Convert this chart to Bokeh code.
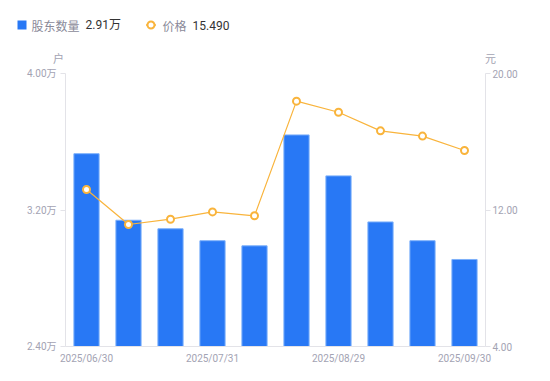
from bokeh.plotting import figure
from bokeh.layouts import column, row
from bokeh.models import Range1d, LinearAxis, FixedTicker
from bokeh.core.properties import value
from bokeh.embed import file_html
from bokeh.resources import INLINE

# ---- data ----
dates = ["2025/06/30", "2025/07/10", "2025/07/20", "2025/07/31", "2025/08/08",
         "2025/08/20", "2025/08/29", "2025/09/10", "2025/09/19", "2025/09/30"]
holders = [3.53, 3.14, 3.09, 3.02, 2.99, 3.64, 3.40, 3.13, 3.02, 2.91]   # 万户
prices = [13.20, 11.15, 11.46, 11.89, 11.66, 18.38, 17.73, 16.64, 16.33, 15.49]  # 元
left_ticks = [2.4, 3.2, 4.0]
left_labels = ["2.40万", "3.20万", "4.00万"]
right_ticks = [4, 12, 20]
right_labels = ["4.00", "12.00", "20.00"]
shown_idx = [0, 3, 6, 9]
legend_names = ["股东数量", "价格"]
legend_values = ["2.91万", "15.490"]
units = ["户", "元"]

xs = list(range(1, len(dates) + 1))

BLUE = "#2878F5"
ORANGE = "#F9B43C"
AXIS = "#E3E3E8"
TICKTXT = "#A3A3B3"
FONT = "Roboto, 'Noto Sans CJK SC'"
CJK = "'Noto Sans CJK SC'"

W = 550
TOP_H = 66

# ---------- header (legend + axis units) ----------
h = figure(frame_width=W, frame_height=TOP_H, x_range=Range1d(0, W), y_range=Range1d(TOP_H, 0),
           output_backend="svg", toolbar_location=None, tools="",
           min_border=0, min_border_left=0, min_border_right=0,
           min_border_top=0, min_border_bottom=0)
h.axis.visible = False
h.grid.visible = False
h.outline_line_color = None
h.background_fill_color = "white"
h.border_fill_color = "white"

h.rect(x=[21.5], y=[24.5], width=9, height=9, fill_color=BLUE, line_color=None)
h.line(x=[145.5, 155.5], y=[24.5, 24.5], line_color=ORANGE, line_width=1.5)
h.scatter(x=[150.5], y=[24.5], size=7, fill_color="white", line_color=ORANGE, line_width=2)
h.text(x=[31, 162], y=[24.5, 24.5], text=legend_names, text_baseline="middle",
       text_align="left", text_color="#8A8A99", text_font_size="12px", text_font=value(CJK))
h.text(x=[85, 192], y=[24.5, 24.5], text=legend_values, text_baseline="middle",
       text_align="left", text_color="#333333", text_font_size="12px", text_font=value(FONT))
h.text(x=[58, 490], y=[57, 57], text=units, text_baseline="middle",
       text_align="center", text_color=TICKTXT, text_font_size="11px", text_font=value(CJK))

# ---------- main chart ----------
p = figure(frame_width=420, frame_height=273, width=W, height=381 - TOP_H,
           min_border_left=65, min_border_right=65, min_border_top=7, min_border_bottom=35,
           x_range=Range1d(0.5, len(dates) + 0.5), y_range=Range1d(2.4, 4.0),
           output_backend="svg", toolbar_location=None, tools="")
p.extra_y_ranges = {"price": Range1d(4, 20)}
p.outline_line_color = None
p.xgrid.visible = False
p.ygrid.visible = False
p.background_fill_color = "white"
p.border_fill_color = "white"

bars = p.vbar(x=xs, top=holders, bottom=2.4, width=0.6, fill_color=BLUE,
              line_color="#7DB0FA", line_width=1)
ln = p.line(xs, prices, y_range_name="price", line_color=ORANGE, line_width=1.2)
sc = p.scatter(xs, prices, y_range_name="price", size=7, fill_color="white",
               line_color=ORANGE, line_width=2)

def style_axis(ax):
    ax.axis_line_color = AXIS
    ax.major_tick_line_color = AXIS
    ax.major_tick_out = 5
    ax.major_tick_in = 0
    ax.minor_tick_line_color = None
    ax.major_label_text_color = TICKTXT
    ax.major_label_text_font_size = "10px"
    ax.major_label_text_font = FONT

xa = p.xaxis[0]
style_axis(xa)
xa.ticker = FixedTicker(ticks=[xs[i] for i in shown_idx])
xa.major_label_overrides = {xs[i]: dates[i] for i in shown_idx}
xa.major_tick_line_color = None
xa.major_tick_out = 0
xa.major_label_standoff = 6

ya = p.yaxis[0]
style_axis(ya)
ya.ticker = FixedTicker(ticks=left_ticks)
ya.major_label_overrides = {t: l for t, l in zip(left_ticks, left_labels)}
ya.major_label_standoff = 4

ra = LinearAxis(y_range_name="price")
style_axis(ra)
ra.ticker = FixedTicker(ticks=right_ticks)
ra.major_label_overrides = {t: l for t, l in zip(right_ticks, right_labels)}
ra.major_label_standoff = 2
p.add_layout(ra, "right")

layout = column(row(h, spacing=0), p, spacing=0)
open("out.html", "w").write(file_html(layout, INLINE))
